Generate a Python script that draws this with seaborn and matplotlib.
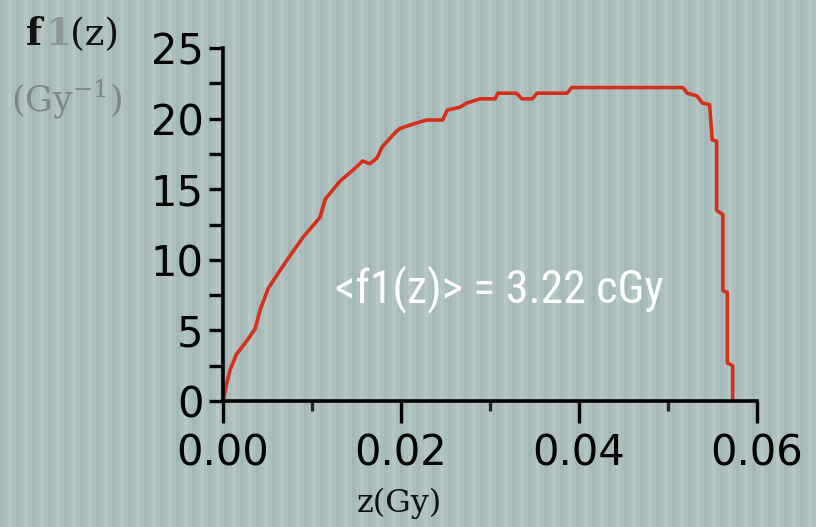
import numpy as np
import matplotlib
matplotlib.use("Agg")
import matplotlib.pyplot as plt
from matplotlib import font_manager
from matplotlib.ticker import MultipleLocator
import seaborn as sns

# Values (z in Gy, f1(z) in 1/Gy)
z_gy = [0, 0.0004, 0.0008, 0.0015, 0.0026, 0.0036, 0.0042, 0.0051, 0.0071, 0.009,
        0.0109, 0.0115, 0.0132, 0.0147, 0.0157, 0.0165, 0.0173, 0.0179, 0.0195, 0.0199,
        0.0213, 0.0229, 0.0247, 0.0252, 0.0266, 0.0274, 0.0289, 0.0306, 0.0309, 0.033,
        0.0336, 0.0348, 0.0353, 0.0387, 0.0392, 0.0517, 0.0522, 0.0533, 0.0539, 0.0547,
        0.055, 0.0555, 0.0555, 0.0562, 0.0562, 0.0567, 0.0567, 0.0573, 0.0573]
f1_z = [0, 1.2, 2.2, 3.3, 4.2, 5.1, 6.5, 8.0, 9.9, 11.6,
        13.0, 14.3, 15.6, 16.4, 17.0, 16.8, 17.2, 18.0, 19.1, 19.3,
        19.6, 19.9, 19.9, 20.6, 20.8, 21.1, 21.4, 21.4, 21.8, 21.8,
        21.4, 21.4, 21.8, 21.8, 22.2, 22.2, 21.8, 21.6, 21.1, 21.0,
        18.5, 18.4, 13.5, 13.2, 7.8, 7.7, 2.7, 2.5, 0]

x_ticks = [0.00, 0.02, 0.04, 0.06]
x_labels = ["0.00", "0.02", "0.04", "0.06"]
y_ticks = [0, 5, 10, 15, 20, 25]
annotation = "<f1(z)> = 3.22 cGy"

sns.set_style("ticks")
plt.rcParams["font.family"] = ["DejaVu Sans"]

# look for a narrow face for the white annotation
narrow = None
fonts = font_manager.fontManager.ttflist
for wanted in ["Liberation Sans Narrow", "Roboto Condensed", "Open Sans Condensed",
               "DejaVu Sans Condensed"]:
    if any(f.name == wanted for f in fonts):
        narrow = wanted
        break
if narrow is None:
    for f in fonts:
        if "condensed" in str(f.stretch) or "Narrow" in f.name or "Condensed" in f.name:
            narrow = f.name
            break

fig = plt.figure(figsize=(8.16, 5.27), dpi=100)

# striped grey-green backdrop
bg = fig.add_axes([0, 0, 1, 1], zorder=0)
dark = np.array([164, 184, 184]) / 255
mid = np.array([172, 191, 189]) / 255
light = np.array([181, 199, 196]) / 255
period = [dark] * 4 + [mid] * 4 + [light] * 4 + [mid] * 4
row = np.array([period[i % 16] for i in range(816)])
bg.imshow(row[None, :, :], aspect="auto", extent=[0, 1, 0, 1])
bg.axis("off")

ax = fig.add_axes([0.2733, 0.2391, 0.654, 0.6698], zorder=1)
ax.set_facecolor("none")

sns.lineplot(x=z_gy, y=f1_z, ax=ax, sort=False, estimator=None,
             color="#d5301c", linewidth=2.6, clip_on=False)

ax.set_xlim(0, 0.06)
ax.set_ylim(0, 25)
ax.set_xticks(x_ticks)
ax.set_xticklabels(x_labels)
ax.set_yticks(y_ticks)
ax.xaxis.set_minor_locator(MultipleLocator(0.01))
ax.yaxis.set_minor_locator(MultipleLocator(2.5))

sns.despine(ax=ax)
for side in ["left", "bottom"]:
    ax.spines[side].set_linewidth(2.6)
    ax.spines[side].set_color("black")

ax.tick_params(axis="x", which="major", length=16, width=2.4, pad=7,
               labelsize=30, colors="black")
ax.tick_params(axis="x", which="minor", length=7, width=2.4)
ax.tick_params(axis="y", which="both", length=10, width=2.4, pad=4,
               labelsize=30, colors="black")

ax.set_xlabel("")
ax.set_ylabel("")

# axis titles placed as in the original image
fig.text(0.49, 0.045, "z(Gy)", fontsize=23, family="DejaVu Serif",
         ha="center", va="center", color="#111111")
fig.text(0.032, 0.934, "f", fontsize=27, family="DejaVu Serif", fontweight="bold",
         ha="left", va="center", color="#111111")
fig.text(0.056, 0.934, "1", fontsize=27, family="DejaVu Serif", fontweight="bold",
         ha="left", va="center", color="#8a9594")
fig.text(0.086, 0.934, "(z)", fontsize=27, family="DejaVu Serif",
         ha="left", va="center", color="#111111")
fig.text(0.014, 0.812, "(Gy$^{\\mathregular{-1}}$)", fontsize=25, family="DejaVu Serif",
         ha="left", va="center", color="#7d8888")

if narrow is not None:
    ax.text(0.0311, 7.0, annotation, fontsize=33, color="white",
            family=narrow, fontstretch="condensed", ha="center", va="baseline")
else:
    ax.text(0.0311, 7.0, annotation, fontsize=27, color="white",
            family="DejaVu Sans", ha="center", va="baseline")

fig.savefig("out.png", dpi=100)
